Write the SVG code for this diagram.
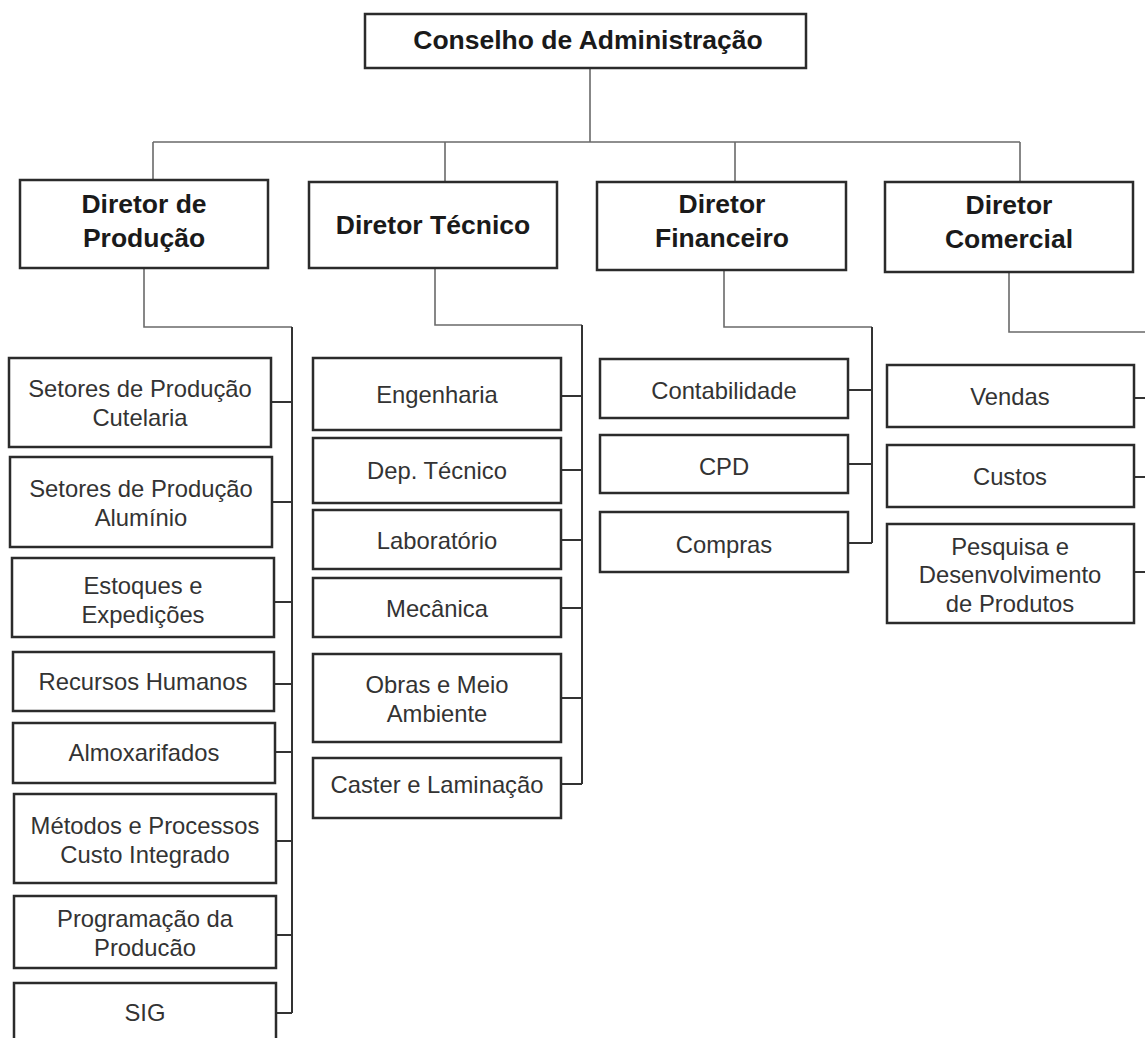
<svg xmlns="http://www.w3.org/2000/svg" width="1145" height="1038" viewBox="0 0 1145 1038">
<style>
.box{fill:#fff;stroke:#2b2b2b;stroke-width:2.5}
.t{font-family:"Liberation Sans",Arial,sans-serif;font-size:23.8px;fill:#333;text-anchor:middle}
.b{font-family:"Liberation Sans",Arial,sans-serif;font-size:26.5px;font-weight:bold;fill:#1a1a1a;text-anchor:middle}
.l1{fill:none;stroke:#6a6a6a;stroke-width:1.6}
.l2{fill:none;stroke:#333;stroke-width:2}
</style>
<rect width="1145" height="1038" fill="#fff"/>
<g id="connectors">
<path class="l1" d="M590 68V142M153 142H1020M153 142V180M445 142V182M735 142V182M1020 142V182"/>
<path class="l1" d="M144 268V327H292M435 268V325H582M724 270V327H872M1009 272V332H1145"/>
<path class="l2" d="M292 327V1013M582 325V784M872 327V543"/>
<path class="l2" d="M271 402H292M272 502H292M274 602H292M274 684H292M275 752H292M276 841H292M276 935H292M276 1013H292"/>
<path class="l2" d="M561 396H582M561 470H582M561 540H582M561 608H582M561 698H582M561 784H582"/>
<path class="l2" d="M848 390H872M848 464H872M848 543H872"/>
<path class="l2" d="M1134 398H1145M1134 477H1145M1134 572H1145"/>
</g>
<g id="conselho"><rect class="box" x="365" y="14" width="441" height="54"/><text class="b" x="588" y="49">Conselho de Administração</text></g>
<g id="dir-producao"><rect class="box" x="20" y="180" width="248" height="88"/><text class="b" x="144" y="213">Diretor de</text><text class="b" x="144" y="247">Produção</text></g>
<g id="dir-tecnico"><rect class="box" x="309" y="182" width="248" height="86"/><text class="b" x="433" y="234">Diretor Técnico</text></g>
<g id="dir-financeiro"><rect class="box" x="597" y="182" width="249" height="88"/><text class="b" x="722" y="213">Diretor</text><text class="b" x="722" y="247">Financeiro</text></g>
<g id="dir-comercial"><rect class="box" x="885" y="182" width="248" height="90"/><text class="b" x="1009" y="214">Diretor</text><text class="b" x="1009" y="248">Comercial</text></g>

<g id="p1"><rect class="box" x="9" y="358" width="262" height="89"/><text class="t" x="140" y="397">Setores de Produção</text><text class="t" x="140" y="426">Cutelaria</text></g>
<g id="p2"><rect class="box" x="10" y="457" width="262" height="90"/><text class="t" x="141" y="497">Setores de Produção</text><text class="t" x="141" y="526">Alumínio</text></g>
<g id="p3"><rect class="box" x="12" y="558" width="262" height="79"/><text class="t" x="143" y="594">Estoques e</text><text class="t" x="143" y="623">Expedições</text></g>
<g id="p4"><rect class="box" x="13" y="652" width="261" height="59"/><text class="t" x="143" y="690">Recursos Humanos</text></g>
<g id="p5"><rect class="box" x="13" y="723" width="262" height="60"/><text class="t" x="144" y="761">Almoxarifados</text></g>
<g id="p6"><rect class="box" x="14" y="794" width="262" height="89"/><text class="t" x="145" y="834">Métodos e Processos</text><text class="t" x="145" y="863">Custo Integrado</text></g>
<g id="p7"><rect class="box" x="14" y="896" width="262" height="72"/><text class="t" x="145" y="927">Programação da</text><text class="t" x="145" y="956">Producão</text></g>
<g id="p8"><rect class="box" x="14" y="983" width="262" height="70"/><text class="t" x="145" y="1021">SIG</text></g>

<g id="t1"><rect class="box" x="313" y="358" width="248" height="72"/><text class="t" x="437" y="403">Engenharia</text></g>
<g id="t2"><rect class="box" x="313" y="438" width="248" height="65"/><text class="t" x="437" y="479">Dep. Técnico</text></g>
<g id="t3"><rect class="box" x="313" y="510" width="248" height="59"/><text class="t" x="437" y="549">Laboratório</text></g>
<g id="t4"><rect class="box" x="313" y="578" width="248" height="59"/><text class="t" x="437" y="617">Mecânica</text></g>
<g id="t5"><rect class="box" x="313" y="654" width="248" height="88"/><text class="t" x="437" y="693">Obras e Meio</text><text class="t" x="437" y="722">Ambiente</text></g>
<g id="t6"><rect class="box" x="313" y="758" width="248" height="60"/><text class="t" x="437" y="793">Caster e Laminação</text></g>

<g id="f1"><rect class="box" x="600" y="359" width="248" height="59"/><text class="t" x="724" y="399">Contabilidade</text></g>
<g id="f2"><rect class="box" x="600" y="435" width="248" height="58"/><text class="t" x="724" y="475">CPD</text></g>
<g id="f3"><rect class="box" x="600" y="512" width="248" height="60"/><text class="t" x="724" y="553">Compras</text></g>

<g id="c1"><rect class="box" x="887" y="365" width="247" height="62"/><text class="t" x="1010" y="405">Vendas</text></g>
<g id="c2"><rect class="box" x="887" y="445" width="247" height="62"/><text class="t" x="1010" y="485">Custos</text></g>
<g id="c3"><rect class="box" x="887" y="524" width="247" height="99"/><text class="t" x="1010" y="555">Pesquisa e</text><text class="t" x="1010" y="583">Desenvolvimento</text><text class="t" x="1010" y="612">de Produtos</text></g>
</svg>
